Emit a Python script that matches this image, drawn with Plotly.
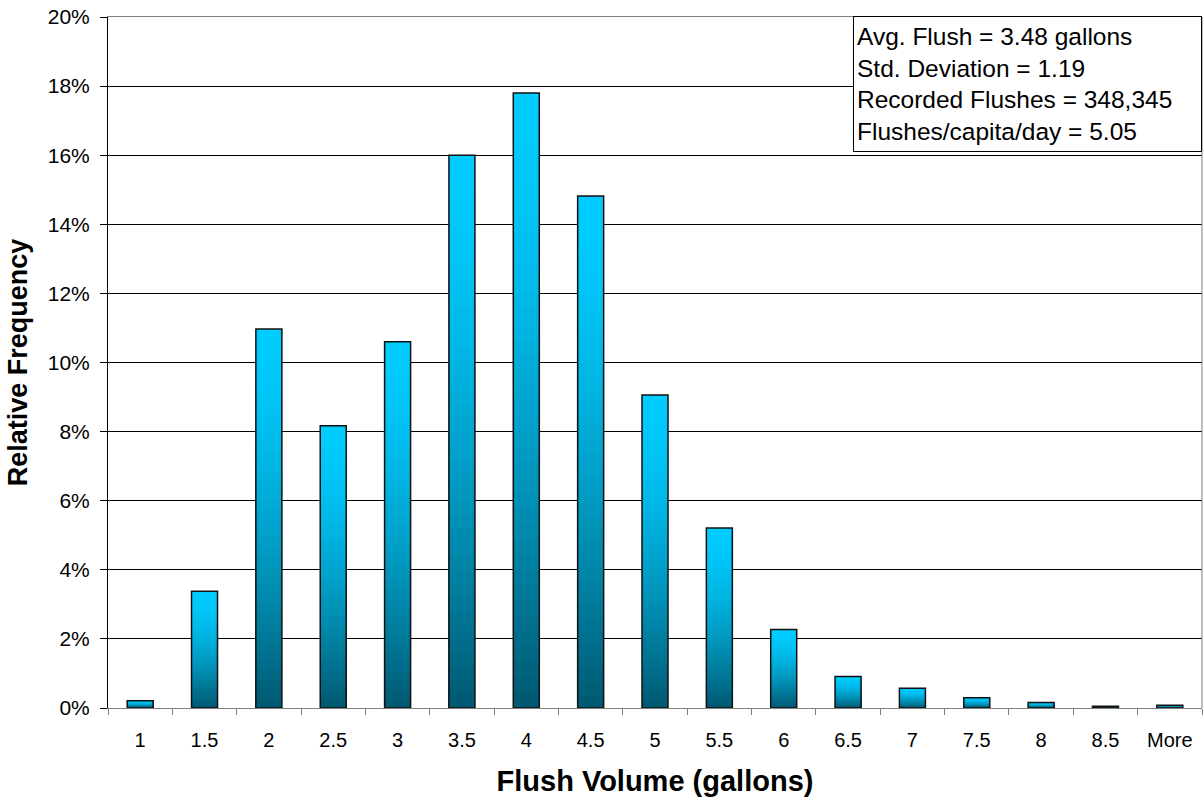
import plotly.graph_objects as go

# Flush volume histogram (relative frequency per volume bin)
bins = ["1", "1.5", "2", "2.5", "3", "3.5", "4", "4.5", "5", "5.5",
        "6", "6.5", "7", "7.5", "8", "8.5", "More"]
rel_freq = [0.0021, 0.0338, 0.1097, 0.0817, 0.1060, 0.1600, 0.1780, 0.1482,
            0.0906, 0.0521, 0.0227, 0.0091, 0.0057, 0.0030, 0.0016, 0.0005, 0.0008]

y_ticks = [0, 0.02, 0.04, 0.06, 0.08, 0.10, 0.12, 0.14, 0.16, 0.18, 0.20]

stats_lines = [
    "Avg. Flush = 3.48 gallons",
    "Std. Deviation = 1.19",
    "Recorded Flushes = 348,345",
    "Flushes/capita/day = 5.05",
]

FONT = "Liberation Sans, Arial, sans-serif"

# vertical shading of each bar: bright cyan at the top, dark teal at the base
TOP_RGB = (0, 204, 255)
BASE_RGB = (0, 88, 112)
STEPS = 40


def shade(f):
    # f = 0 at the bar base, 1 at the bar top
    g = 1 - (1 - f) ** 1.6
    return "rgb({},{},{})".format(*[round(b + (t - b) * g) for t, b in zip(TOP_RGB, BASE_RGB)])


fig = go.Figure()

# stacked-down overlays: the full-height bar first, then progressively shorter, darker ones
for k in range(STEPS, 0, -1):
    frac = k / STEPS
    fig.add_trace(go.Bar(
        x=bins,
        y=[v * frac for v in rel_freq],
        marker=dict(color=shade((k - 0.5) / STEPS), line=dict(width=0)),
        hoverinfo="skip",
        showlegend=False,
    ))

# outline of each bar
fig.add_trace(go.Bar(
    x=bins,
    y=rel_freq,
    marker=dict(color="rgba(0,0,0,0)", line=dict(color="#111111", width=1.5)),
    hovertemplate="%{x}: %{y:.1%}<extra></extra>",
    showlegend=False,
))

fig.update_layout(
    width=1203,
    height=799,
    margin=dict(l=108, r=1, t=17, b=91),
    paper_bgcolor="white",
    plot_bgcolor="white",
    barmode="overlay",
    bargap=0.596,
    font=dict(family=FONT, color="black"),
    showlegend=False,
)

fig.update_xaxes(
    type="category",
    tickson="boundaries",
    ticks="outside",
    ticklen=6,
    tickcolor="#808080",
    tickwidth=1,
    showline=True,
    linecolor="#808080",
    linewidth=1,
    mirror=True,
    showgrid=False,
    tickfont=dict(size=20, family=FONT),
    ticklabelstandoff=14,
    title=dict(text="<b>Flush Volume (gallons)</b>", font=dict(size=29, family=FONT), standoff=20),
)

fig.update_yaxes(
    range=[0, 0.20],
    tickvals=y_ticks,
    tickformat=".0%",
    ticks="outside",
    ticklen=7,
    tickcolor="black",
    showline=True,
    linecolor="black",
    linewidth=1,
    showgrid=True,
    gridcolor="black",
    gridwidth=1,
    zeroline=False,
    tickfont=dict(size=21, family=FONT),
    ticklabelstandoff=6,
    title=dict(text="<b>Relative Frequency</b>", font=dict(size=27, family=FONT), standoff=12),
)

# right edge of the plot frame
fig.add_shape(type="line", xref="paper", yref="paper", x0=1, x1=1, y0=0, y1=1,
              line=dict(color="#808080", width=1))

# summary statistics box
fig.add_annotation(
    xref="paper", yref="paper", x=1, y=1.0015, xanchor="right", yanchor="top",
    text="<br>".join(stats_lines),
    align="left", valign="middle",
    showarrow=False,
    width=341, height=128,
    bgcolor="white", bordercolor="black", borderwidth=1, borderpad=3,
    font=dict(size=24.5, family=FONT, color="black"),
)

fig.write_html("out.html")
